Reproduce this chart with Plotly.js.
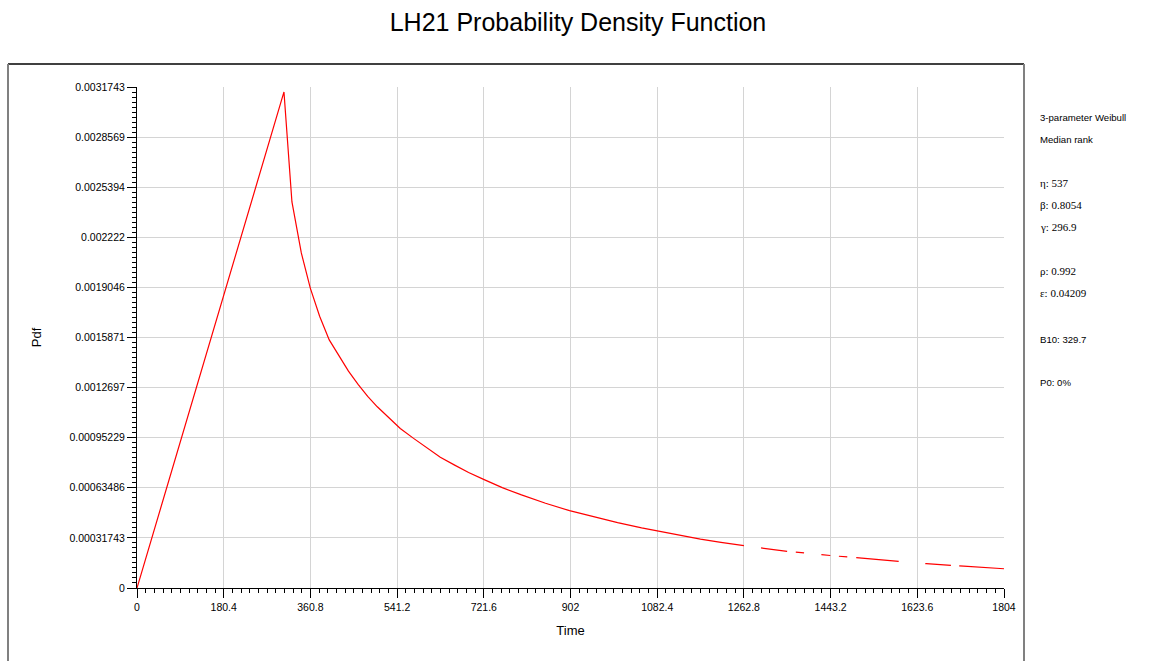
<!DOCTYPE html>
<html>
<head>
<meta charset="utf-8">
<script src="https://cdn.plot.ly/plotly-3.0.1.min.js"></script>
<style>
  html, body { margin: 0; padding: 0; background: #ffffff; }
  #chart { width: 1161px; height: 661px; }
</style>
</head>
<body>
<div id="chart"></div>
<script>
// ---- Data ----
const timeValues = [0, 305.8, 322.4, 341.9, 360.6, 380, 400, 420, 440, 460, 480, 500, 525, 547.8, 575.5, 600, 631.1, 660, 690, 721.2, 760, 800, 850, 900, 950, 1000, 1050, 1082, 1130, 1172.3, 1215, 1262.8, 1353.7, 1442.6, 1530, 1586.7, 1642.3, 1720, 1804];
const pdfValues  = [0, 0.003143, 0.002446, 0.002123, 0.001900, 0.001722, 0.001572, 0.001470, 0.001374, 0.001290, 0.001214, 0.001148, 0.001075, 0.001011, 0.000948, 0.000893, 0.000828, 0.000780, 0.000732, 0.000688, 0.000636, 0.000590, 0.000537, 0.000490, 0.000450, 0.000414, 0.000381, 0.000362, 0.000335, 0.000310, 0.000289, 0.000268, 0.000232, 0.000206, 0.000183, 0.000167, 0.000154, 0.000138, 0.000122];
const dashStartTime = 1262.8;

const xTickVals = [0, 180.4, 360.8, 541.2, 721.6, 902, 1082.4, 1262.8, 1443.2, 1623.6, 1804];
const xTickText = ["0", "180.4", "360.8", "541.2", "721.6", "902", "1082.4", "1262.8", "1443.2", "1623.6", "1804"];
const yTickVals = [0, 0.00031743, 0.00063486, 0.00095229, 0.0012697, 0.0015871, 0.0019046, 0.002222, 0.0025394, 0.0028569, 0.0031743];
const yTickText = ["0", "0.00031743", "0.00063486", "0.00095229", "0.0012697", "0.0015871", "0.0019046", "0.002222", "0.0025394", "0.0028569", "0.0031743"];

const infoLines = [
  {text: "3-parameter Weibull", serif: false},
  {text: "Median rank", serif: false},
  {text: "η: 537", serif: true},
  {text: "β: 0.8054", serif: true},
  {text: "γ: 296.9", serif: true},
  {text: "ρ: 0.992", serif: true},
  {text: "ε: 0.04209", serif: true},
  {text: "B10: 329.7", serif: false},
  {text: "P0: 0%", serif: false}
];
const infoPixelY = [118, 139, 183, 205, 227, 271, 293, 339, 382];

// ---- Build traces ----
const splitIdx = timeValues.indexOf(dashStartTime);
const SANS = "Liberation Sans, Arial, sans-serif";
const SERIF = "Liberation Serif, Times New Roman, serif";

const solidTrace = {
  x: timeValues.slice(0, splitIdx + 1),
  y: pdfValues.slice(0, splitIdx + 1),
  type: "scatter", mode: "lines",
  line: {color: "#ff0000", width: 1.2},
  hoverinfo: "skip", showlegend: false
};
const tailTrace = {
  x: timeValues.slice(splitIdx),
  y: pdfValues.slice(splitIdx),
  type: "scatter", mode: "lines",
  line: {color: "#ff0000", width: 1.2,
         dash: "0px,17.3px,26.3px,8.7px,8.3px,17.4px,9px,8.6px,8.4px,9px,42.6px,26.7px,25.7px,8.3px,80px"},
  hoverinfo: "skip", showlegend: false
};

// plot area geometry (pixels)
const L = 137, R = 157, T = 87, B = 73;
const W = 1161, H = 661;
const pw = W - L - R, ph = H - T - B;
const px2paperX = p => (p - L) / pw;
const px2paperY = p => (H - B - p) / ph;

const annotations = infoLines.map((ln, i) => ({
  text: ln.text, xref: "paper", yref: "paper",
  x: px2paperX(1038), y: px2paperY(infoPixelY[i]),
  xanchor: "left", yanchor: "middle", showarrow: false,
  font: ln.serif ? {family: SERIF, size: 11, color: "#000"} : {family: SANS, size: 9.6, color: "#000"}
}));

const frameX0 = px2paperX(8), frameX1 = px2paperX(1024);
const frameTop = px2paperY(64), frameBot = px2paperY(700);
const shapes = [
  {type: "line", xref: "paper", yref: "paper", x0: frameX0, x1: frameX1, y0: frameTop, y1: frameTop, line: {color: "#000", width: 1.5}},
  {type: "line", xref: "paper", yref: "paper", x0: frameX0, x1: frameX0, y0: frameBot, y1: frameTop, line: {color: "#808080", width: 2}},
  {type: "line", xref: "paper", yref: "paper", x0: frameX1, x1: frameX1, y0: frameBot, y1: frameTop, line: {color: "#808080", width: 2}}
];

const layout = {
  width: W, height: H,
  margin: {l: L, r: R, t: T, b: B, pad: 0},
  paper_bgcolor: "#ffffff", plot_bgcolor: "#ffffff",
  font: {family: SANS, color: "#000"},
  title: {text: "LH21 Probability Density Function", font: {family: SANS, size: 25, color: "#000"},
          xref: "container", x: 578 / W, xanchor: "center",
          yref: "container", y: 1 - 22 / H, yanchor: "middle"},
  showlegend: false,
  xaxis: {
    range: [0, 1804], tickmode: "array", tickvals: xTickVals, ticktext: xTickText,
    ticks: "outside", ticklen: 9, tickwidth: 1, tickcolor: "#000",
    showline: true, linecolor: "#000", linewidth: 1,
    showgrid: true, gridcolor: "#d4d4d4", gridwidth: 1, zeroline: false,
    tickfont: {family: SANS, size: 10.5, color: "#000"},
    minor: {tickmode: "linear", tick0: 0, dtick: 18.04, ticks: "outside", ticklen: 4, tickcolor: "#000", tickwidth: 1, showgrid: false},
    title: {text: "Time", font: {family: SANS, size: 13, color: "#000"}, standoff: 14},
    fixedrange: true
  },
  xaxis2: {
    overlaying: "x", anchor: "y", side: "bottom", range: [0, 1804],
    tickmode: "linear", tick0: 0, dtick: 90.2, ticks: "outside", ticklen: 6, tickcolor: "#000", tickwidth: 1,
    showticklabels: false, showgrid: false, zeroline: false, showline: false, fixedrange: true
  },
  yaxis: {
    range: [0, 0.0031743], tickmode: "array", tickvals: yTickVals, ticktext: yTickText,
    ticks: "outside", ticklen: 9, tickwidth: 1, tickcolor: "#000",
    showline: true, linecolor: "#000", linewidth: 1,
    showgrid: true, gridcolor: "#d4d4d4", gridwidth: 1, zeroline: false,
    tickfont: {family: SANS, size: 10.5, color: "#000"},
    minor: {tickmode: "linear", tick0: 0, dtick: 0.000031743, ticks: "outside", ticklen: 4, tickcolor: "#000", tickwidth: 1, showgrid: false},
    title: {text: "Pdf", font: {family: SANS, size: 13, color: "#000"}, standoff: 24},
    fixedrange: true
  },
  yaxis2: {
    overlaying: "y", anchor: "x", side: "left", range: [0, 0.0031743],
    tickmode: "linear", tick0: 0, dtick: 0.000158715, ticks: "outside", ticklen: 6, tickcolor: "#000", tickwidth: 1,
    showticklabels: false, showgrid: false, zeroline: false, showline: false, fixedrange: true
  },
  shapes: shapes,
  annotations: annotations
};

Plotly.newPlot("chart", [solidTrace, tailTrace], layout, {displayModeBar: false, staticPlot: true});
</script>
</body>
</html>
